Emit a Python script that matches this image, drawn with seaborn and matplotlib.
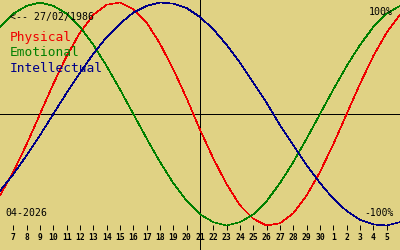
import matplotlib
matplotlib.use("Agg")
import matplotlib.pyplot as plt
import seaborn as sns
import pandas as pd

# Days (April numbering: 31 = 1 May, ...)
days = list(range(6, 37))
physical = [-0.73, -0.52, -0.27, 0.00, 0.27, 0.52, 0.73, 0.89, 0.98, 1.00,
            0.94, 0.82, 0.63, 0.40, 0.14, -0.14, -0.40, -0.63, -0.82, -0.94,
            -1.00, -0.98, -0.89, -0.73, -0.52, -0.27, 0.00, 0.27, 0.52, 0.73, 0.89]
emotional = [0.78, 0.90, 0.97, 1.00, 0.97, 0.90, 0.78, 0.62, 0.43, 0.22,
             0.00, -0.22, -0.43, -0.62, -0.78, -0.90, -0.97, -1.00, -0.97, -0.90,
             -0.78, -0.62, -0.43, -0.22, 0.00, 0.22, 0.43, 0.62, 0.78, 0.90, 0.97]
intellectual = [-0.69, -0.54, -0.37, -0.19, 0.00, 0.19, 0.37, 0.54, 0.69, 0.81,
                0.91, 0.97, 1.00, 0.99, 0.95, 0.87, 0.76, 0.62, 0.46, 0.28,
                0.10, -0.10, -0.28, -0.46, -0.62, -0.76, -0.87, -0.95, -0.99, -1.00, -0.97]
series_names = ["Physical", "Emotional", "Intellectual"]
tick_days = list(range(7, 36))
tick_labels = [str(d) for d in range(7, 31)] + [str(d) for d in range(1, 6)]
today = 21
birth_label = "<-- 27/02/1986"
month_label = "04-2026"

bg = "#E0D284"
colors = {"Physical": "#F00000", "Emotional": "#008000", "Intellectual": "#000088"}

df = pd.concat([
    pd.DataFrame({"day": days, "value": vals, "series": name})
    for name, vals in zip(series_names, [physical, emotional, intellectual])
])

sns.set_style("white")
plt.rcParams["font.family"] = ["DejaVu Sans Mono", "DejaVu Sans"]

fig = plt.figure(figsize=(4, 2.5), dpi=100, facecolor=bg)
ax = fig.add_axes([0, 0, 1, 1])
ax.set_facecolor(bg)

ax.axhline(0, color="black", lw=0.6, antialiased=False, zorder=1)
ax.axvline(today, color="black", lw=0.6, antialiased=False, zorder=1)

sns.lineplot(data=df, x="day", y="value", hue="series", palette=colors,
             hue_order=series_names, ax=ax, legend=False, linewidth=0.45,
             antialiased=False, zorder=2)
for ln in ax.lines[2:]:
    ln.set_linewidth(0.45)
    ln.set_antialiased(False)

ax.set_xlim(6, 36)
ax.set_ylim(-1.2197, 1.0224)

for s in ax.spines.values():
    s.set_visible(False)
ax.spines["bottom"].set_position(("data", -1.0404))
ax.set_xticks(tick_days)
ax.set_xticklabels(tick_labels, fontsize=5.8, fontweight="bold")
ax.tick_params(axis="x", bottom=True, direction="in", length=3.6, width=0.7,
               pad=2.5, colors="black")
ax.set_yticks([])
ax.set_xlabel("")
ax.set_ylabel("")

ax.text(10 / 400, 1 - 17 / 250, birth_label, transform=ax.transAxes,
        fontsize=7.1, ha="left", va="center", color="black")
for i, name in enumerate(series_names):
    ax.text(10 / 400, 1 - (38 + 15 * i) / 250, name, transform=ax.transAxes,
            fontsize=9.3, ha="left", va="center", color=colors[name])
ax.text(393 / 400, 1 - 12 / 250, "100%", transform=ax.transAxes,
        fontsize=7.2, ha="right", va="center", color="black")
ax.text(394 / 400, 1 - 213 / 250, "-100%", transform=ax.transAxes,
        fontsize=7.0, ha="right", va="center", color="black")
ax.text(5 / 400, 1 - 212.5 / 250, month_label, transform=ax.transAxes,
        fontsize=7.1, ha="left", va="center", color="black")

fig.savefig("out.png", dpi=100, facecolor=bg)
